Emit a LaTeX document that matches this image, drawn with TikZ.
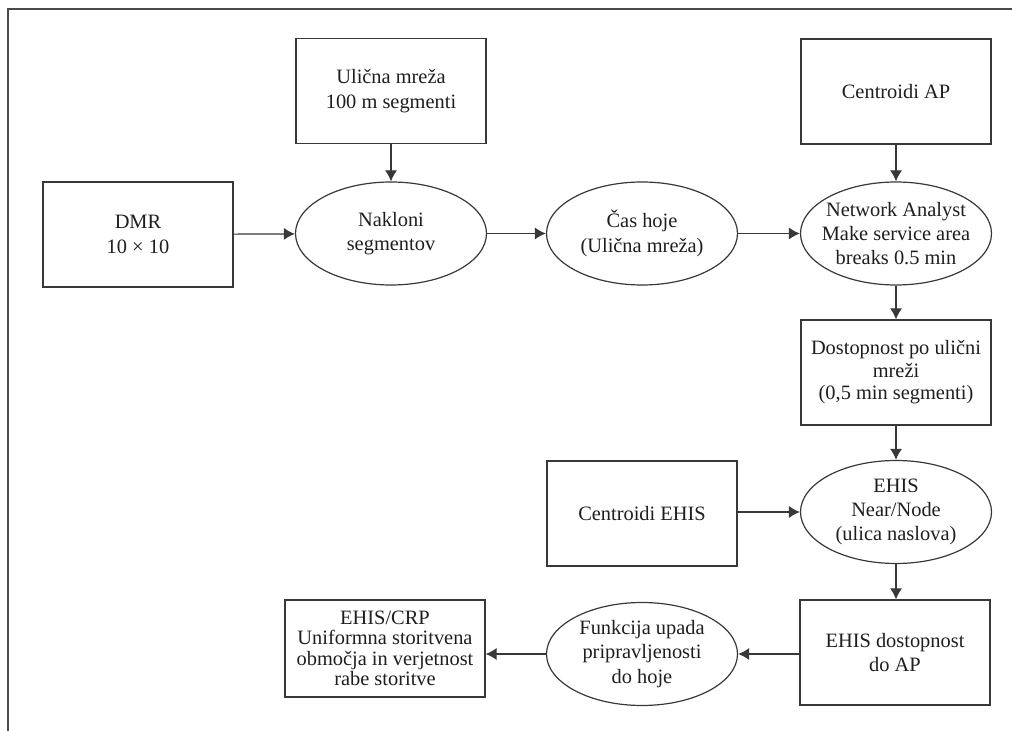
\documentclass[tikz,border=0pt]{standalone}
\usepackage{fontspec}
\setmainfont{Liberation Serif}
\usetikzlibrary{shapes.geometric,arrows.meta}
\begin{document}
\begin{tikzpicture}[x=0.5pt,y=-0.5pt,
  every node/.style={font=\fontsize{10.2}{12.2}\selectfont,text=color2,align=center},
  flowbox/.style={draw=color0,line width=0.6pt,rectangle,minimum width=95pt,minimum height=52.5pt,inner sep=2pt},
  flowoval/.style={draw=color0,line width=0.6pt,ellipse,minimum width=95.5pt,minimum height=51.5pt,inner sep=0pt},
  flowarrow/.style={color0,line width=0.6pt,-{Latex[length=5.5pt,width=6pt]}}]
\definecolor{color0}{HTML}{383838}
\definecolor{color1}{HTML}{4A4A4A}
\definecolor{color2}{HTML}{1E1E1E}
\useasboundingbox (0,0) rectangle (1012,731);
\draw[color1,line width=1pt] (8,731) -- (8,9) -- (1012,9);
\node[flowbox] (dmr) at (138,234.5) {DMR\\10 × 10};
\node[flowbox] (ulicna) at (391,91) {Ulična mreža\\100 m segmenti};
\node[flowoval] (naklon) at (391,233.5) {Nakloni\\segmentov};
\node[flowoval] (cas) at (642,233.5) {Čas hoje\\(Ulična mreža)};
\node[flowbox] (centap) at (896,91.5) {Centroidi AP};
\node[flowoval,inner xsep=-5pt] (netw) at (896,233.5) {Network Analyst\\Make service area\\breaks 0.5 min};
\node[flowbox,font=\fontsize{10.2}{11.2}\selectfont] (dostop) at (896,372.5) {Dostopnost po ulični\\mreži\\(0,5 min segmenti)};
\node[flowbox] (centehis) at (642,513.5) {Centroidi EHIS};
\node[flowoval] (ehis) at (896,512) {EHIS\\Near/Node\\(ulica naslova)};
\node[flowbox] (ehisdost) at (895,652.5) {EHIS dostopnost\\do AP};
\node[flowoval] (funk) at (642,654) {Funkcija upada\\pripravljenosti\\do hoje};
\node[flowbox,minimum width=100pt,minimum height=48.5pt,font=\fontsize{10.2}{10.2}\selectfont] (crp) at (385,648.5) {EHIS/CRP\\Uniformna storitvena\\območja in verjetnost\\rabe storitve};
\draw[flowarrow] (dmr) -- (naklon);
\draw[flowarrow] (ulicna) -- (naklon);
\draw[flowarrow] (naklon) -- (cas);
\draw[flowarrow] (cas) -- (netw);
\draw[flowarrow] (centap) -- (netw);
\draw[flowarrow] (netw) -- (dostop);
\draw[flowarrow] (dostop) -- (ehis);
\draw[flowarrow] (centehis.east |- ehis.west) -- (ehis.west);
\draw[flowarrow] (ehis) -- (ehisdost.north -| ehis.south);
\draw[flowarrow] (ehisdost.west |- funk.east) -- (funk.east);
\draw[flowarrow] (funk.west) -- (funk.west -| crp.east);
\end{tikzpicture}
\end{document}
